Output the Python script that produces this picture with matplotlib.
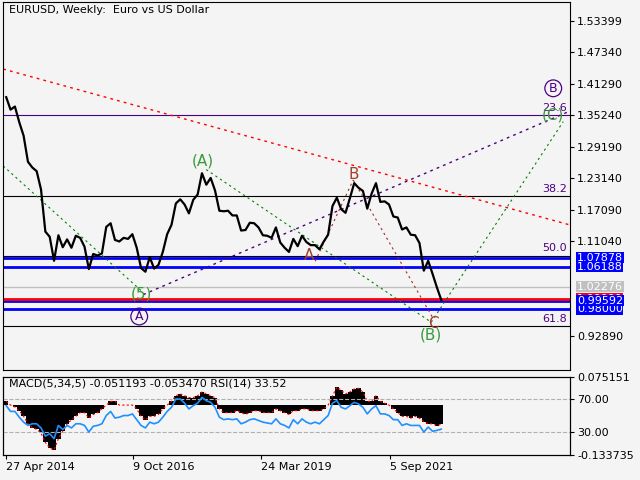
import matplotlib
matplotlib.use("Agg")
import matplotlib.pyplot as plt
import matplotlib.transforms as mtrans
import numpy as np

# monthly EURUSD closes, Apr 2014 .. Aug 2022
price = [1.387,1.363,1.369,1.339,1.313,1.263,1.252,1.245,1.210,
 1.129,1.119,1.073,1.122,1.099,1.114,1.098,1.121,1.117,1.100,1.057,1.086,
 1.083,1.087,1.138,1.145,1.113,1.110,1.117,1.115,1.124,1.098,1.059,1.052,
 1.080,1.058,1.065,1.090,1.124,1.142,1.183,1.191,1.181,1.164,1.190,1.200,
 1.241,1.219,1.232,1.208,1.169,1.168,1.169,1.160,1.160,1.131,1.132,1.146,
 1.145,1.137,1.122,1.121,1.117,1.137,1.108,1.098,1.090,1.115,1.101,1.121,
 1.109,1.103,1.103,1.095,1.110,1.123,1.178,1.194,1.172,1.165,1.193,1.222,
 1.213,1.207,1.173,1.202,1.222,1.186,1.187,1.181,1.158,1.156,1.133,1.137,
 1.123,1.122,1.107,1.054,1.073,1.048,1.022,0.998]
macd = [0.01,0.0,-0.005,-0.015,-0.03,-0.05,-0.06,-0.065,-0.075,
 -0.10,-0.115,-0.12,-0.09,-0.07,-0.05,-0.04,-0.03,-0.02,-0.02,-0.035,-0.025,
 -0.02,-0.01,0.0,0.01,0.01,0.0,0.0,0.0,0.0,-0.01,-0.03,-0.04,
 -0.03,-0.03,-0.025,-0.01,0.0,0.01,0.025,0.03,0.025,0.02,0.02,0.025,
 0.035,0.03,0.025,0.02,-0.01,-0.02,-0.02,-0.02,-0.015,-0.02,-0.025,-0.02,
 -0.015,-0.015,-0.02,-0.02,-0.02,-0.01,-0.015,-0.02,-0.025,-0.015,-0.015,-0.01,
 -0.01,-0.015,-0.015,-0.015,-0.01,0.0,0.025,0.048,0.04,0.03,0.035,0.043,
 0.045,0.035,0.01,0.01,0.025,0.01,0.005,0.0,-0.01,-0.02,-0.03,-0.03,
 -0.035,-0.03,-0.035,-0.045,-0.05,-0.05,-0.055,-0.051]
rsi = [62,55,55,48,42,38,40,40,35,
 25,28,22,38,33,38,35,40,40,38,30,37,
 38,40,50,55,47,48,50,50,52,45,38,35,
 42,40,42,48,55,60,70,70,65,58,62,65,
 72,68,66,60,48,45,46,45,46,40,42,45,
 46,44,42,41,40,46,40,38,35,45,40,46,
 42,40,42,40,45,50,65,68,60,58,62,66,
 64,60,52,58,62,52,52,50,45,45,38,40,
 38,38,38,30,36,31,32,33.5]
date_labels = ["27 Apr 2014", "9 Oct 2016", "24 Mar 2019", "5 Sep 2021"]
date_pos = [3, 130, 258, 387]
price_ticks = [1.53399,1.47340,1.41290,1.35240,1.29190,1.23140,1.17090,1.11040,0.92890]
fib_levels = [1.353, 1.198, 1.083, 0.948]
fib_names = ["23.6", "38.2", "50.0", "61.8"]
blue_levels = [1.07878, 1.06188, 0.99592, 0.98000]
red_level = 1.00000
gray_level = 1.02276
# trend lines: (x0, p0, x1, p1)
red_trend = (0, 1.441, 570, 1.140)
purple_trend = (140, 1.008, 565, 1.359)
green_lines = [(0, 1.255, 140, 1.012), (203, 1.248, 428, 0.955), (428, 0.955, 560, 1.340)]
brown_lines = [(312, 1.072, 350, 1.228), (350, 1.228, 430, 0.962)]

BG = "#f4f4f4"
fig = plt.figure(figsize=(6.4, 4.8), dpi=100, facecolor=BG)
ax = fig.add_axes([0.005, 0.229, 0.886, 0.767], facecolor=BG)
ax2 = fig.add_axes([0.005, 0.052, 0.886, 0.1625], facecolor=BG)
XMAX = 567
x = 3 + np.arange(len(price)) * 4.35

ax.set_xlim(0, XMAX); ax.set_ylim(0.8632, 1.5698)
ax.plot(x, price, color="black", lw=1.6, zorder=5)
for lv in fib_levels:
    ax.axhline(lv, color="#4b0082" if lv == fib_levels[0] else "black", lw=0.8)
for lv, nm in zip(fib_levels, fib_names):
    ax.text(XMAX - 3, lv + 0.004, nm, ha="right", va="bottom", color="#4b0082", fontsize=8)
ax.axhline(gray_level, color="#c0c0c0", lw=1)
for lv in blue_levels:
    ax.axhline(lv, color="#0000ff", lw=2)
ax.axhline(red_level, color="#ff0000", lw=2)
ax.plot(red_trend[::2], red_trend[1::2], color="red", ls=(0, (2, 3)), lw=1)
ax.plot(purple_trend[::2], purple_trend[1::2], color="#4b0082", ls=(0, (2, 3)), lw=1)
for l in green_lines:
    ax.plot(l[::2], l[1::2], color="green", ls=(0, (2, 3)), lw=0.8)
for l in brown_lines:
    ax.plot(l[::2], l[1::2], color="#a52a2a", ls=(0, (2, 3)), lw=0.8)
labels = [("(A)", 200, 1.265, "#3a9a3a"), ("B", 351, 1.238, "#a0402a"), ("A", 306, 1.084, "#a0402a"),
          ("(5)", 138, 1.010, "#3a9a3a"), ("C", 430, 0.953, "#a0402a"),
          ("(B)", 428, 0.930, "#3a9a3a"), ("(C)", 550, 1.352, "#3a9a3a")]
for t, xx, yy, c in labels:
    ax.text(xx, yy, t, color=c, fontsize=11, ha="center", va="center", zorder=6)
for t, xx, yy in [("A", 136, 0.966), ("B", 550, 1.404)]:
    ax.text(xx, yy, t, color="#4b0082", fontsize=9, ha="center", va="center", zorder=6,
            bbox=dict(boxstyle="circle,pad=0.15", fc="none", ec="#4b0082", lw=0.9))
ax.text(6, 1.563, "EURUSD, Weekly:  Euro vs US Dollar", fontsize=8, va="top")
ax.yaxis.tick_right()
ax.set_yticks(price_ticks)
ax.set_yticklabels([f"{v:.5f}" for v in price_ticks], fontsize=8)
ax.tick_params(axis="y", length=3, pad=2)
ax.set_xticks([])
tr = mtrans.blended_transform_factory(ax.transAxes, ax.transData)
boxes = [(1.07878, "#0000ff"), (1.06188, "#0000ff"), (1.02276, "#c0c0c0"),
         (0.98000, "#0000ff"), (1.00000, "#ff0000"), (0.99592, "#0000ff")]
for v, bc in boxes:
    ax.text(1.012, v, f"{v:.5f}", transform=tr, fontsize=8, color="white", va="center", ha="left",
            bbox=dict(boxstyle="square,pad=0.05", fc=bc, ec="none"), zorder=10, clip_on=False)

# lower panel
ax2.set_xlim(0, XMAX)
ax2.set_ylim(-0.133735, 0.075151)
ax2.bar(x, macd, width=4.4, color="black", zorder=2)
ax2.plot(x, macd, color="red", ls=(0, (2, 2)), lw=0.8, zorder=3)
ax3 = ax2.twinx()
ax3.set_ylim(2.1, 96.7)
ax3.axhline(70, color="#b0b0b0", ls="--", lw=0.8)
ax3.axhline(30, color="#b0b0b0", ls="--", lw=0.8)
ax3.plot(x, rsi, color="#1e90ff", lw=1.2)
ax3.set_yticks([70, 30]); ax3.set_yticklabels(["70.00", "30.00"], fontsize=8)
ax2.yaxis.tick_right()
ax2.set_yticks([0.075151, -0.133735]); ax2.set_yticklabels(["0.075151", "-0.133735"], fontsize=8)
ax3.tick_params(axis="y", length=3, pad=2); ax2.tick_params(axis="y", length=3, pad=2)
ax2.set_xticks(date_pos); ax2.set_xticklabels(date_labels, fontsize=8, ha="left")
ax2.tick_params(axis="x", length=3, pad=2)
ax2.text(6, 0.07, "MACD(5,34,5) -0.051193 -0.053470 RSI(14) 33.52", fontsize=8, va="top", zorder=5)
fig.savefig("out.png", dpi=100, facecolor=BG)
